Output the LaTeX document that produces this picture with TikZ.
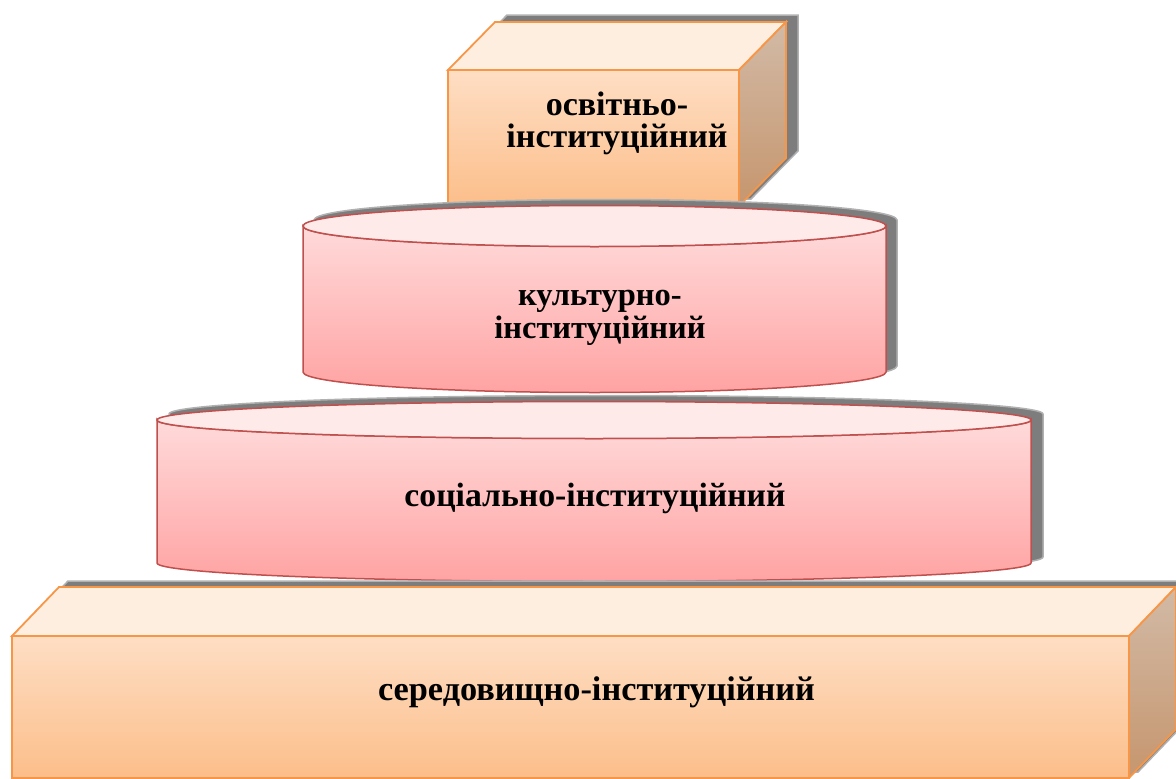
\documentclass[tikz,border=0pt]{standalone}
\usepackage{fontspec}
\setmainfont{Liberation Serif}
\begin{document}
\begin{tikzpicture}[x=1pt,y=-1pt]
\definecolor{edgeO}{RGB}{247,150,70}
\definecolor{edgeR}{RGB}{192,80,77}
\definecolor{topO}{RGB}{254,238,224}
\definecolor{frontOt}{RGB}{254,222,196}
\definecolor{frontOb}{RGB}{252,190,138}
\definecolor{sideOt}{RGB}{210,186,166}
\definecolor{sideOb}{RGB}{198,150,110}
\definecolor{topR}{RGB}{255,234,234}
\definecolor{sideRt}{RGB}{255,218,218}
\definecolor{sideRb}{RGB}{255,163,163}
\definecolor{shad}{RGB}{125,125,125}
\tikzset{
  shadowfill/.style={fill=shad,draw=shad!60,line width=1.5pt},
  oedge/.style={draw=edgeO,line width=1.8pt,line join=miter},
  redge/.style={draw=edgeR,line width=1.5pt},
  lbl/.style={font=\bfseries,inner sep=0pt,align=center,text=black}
}
\useasboundingbox (0,0) rectangle (1176,779);
\fill[white] (0,0) rectangle (1176,779);

% ---------- cube (top) ----------
\fill[shadowfill,shift={(12,-7)}] (448,70) -- (495,22) -- (786,22) -- (786,158) -- (739,206) -- (448,206) -- cycle;
\path[oedge,top color=frontOt,bottom color=frontOb] (448,70) rectangle (739,206);
\path[oedge,fill=topO] (448,70) -- (495,22) -- (786,22) -- (739,70) -- cycle;
\path[oedge,top color=sideOt,bottom color=sideOb] (739,70) -- (786,22) -- (786,158) -- (739,206) -- cycle;
\node[lbl,font=\bfseries\fontsize{34}{32}\selectfont] (t1) at (617,123) {освітньо-\\інституційний};

% ---------- upper cylinder ----------
\fill[shadowfill,shift={(11,-6)}] (303,226) -- (303,372) arc[start angle=180,end angle=0,x radius=291.5,y radius=20.5] -- (886,226) arc[start angle=0,end angle=-180,x radius=291.5,y radius=20.5] -- cycle;
\path[redge,top color=sideRt,bottom color=sideRb] (303,226) -- (303,372) arc[start angle=180,end angle=0,x radius=291.5,y radius=20.5] -- (886,226) arc[start angle=0,end angle=180,x radius=291.5,y radius=20.5] -- cycle;
\path[redge,fill=topR] (594.5,226) ellipse[x radius=291.5,y radius=20.5];
\node[lbl,font=\bfseries\fontsize{32.5}{33}\selectfont] (t2) at (600,317.5) {культурно-\\інституційний};

% ---------- lower cylinder ----------
\fill[shadowfill,shift={(12,-6)}] (157,420) -- (157,563) arc[start angle=180,end angle=0,x radius=437,y radius=18.5] -- (1031,420) arc[start angle=0,end angle=-180,x radius=437,y radius=18.5] -- cycle;
\path[redge,top color=sideRt,bottom color=sideRb] (157,420) -- (157,563) arc[start angle=180,end angle=0,x radius=437,y radius=18.5] -- (1031,420) arc[start angle=0,end angle=180,x radius=437,y radius=18.5] -- cycle;
\path[redge,fill=topR] (594,420) ellipse[x radius=437,y radius=18.5];
\node[lbl,anchor=base,font=\bfseries\fontsize{33.7}{36}\selectfont] (t3) at (595,506) {соціально-інституційний};

% ---------- bottom box ----------
\fill[shadowfill,shift={(9,-6)}] (12,636) -- (59,587) -- (1176,587) -- (1176,729) -- (1129,778) -- (12,778) -- cycle;
\path[oedge,top color=frontOt,bottom color=frontOb] (12,636) rectangle (1129,778);
\path[oedge,fill=topO] (12,636) -- (59,587) -- (1176,587) -- (1129,636) -- cycle;
\path[oedge,top color=sideOt,bottom color=sideOb] (1129,636) -- (1176,587) -- (1176,729) -- (1129,778) -- cycle;
\node[lbl,anchor=base,font=\bfseries\fontsize{34.3}{36}\selectfont] (t4) at (596.5,700) {середовищно-інституційний};
\end{tikzpicture}
\end{document}
